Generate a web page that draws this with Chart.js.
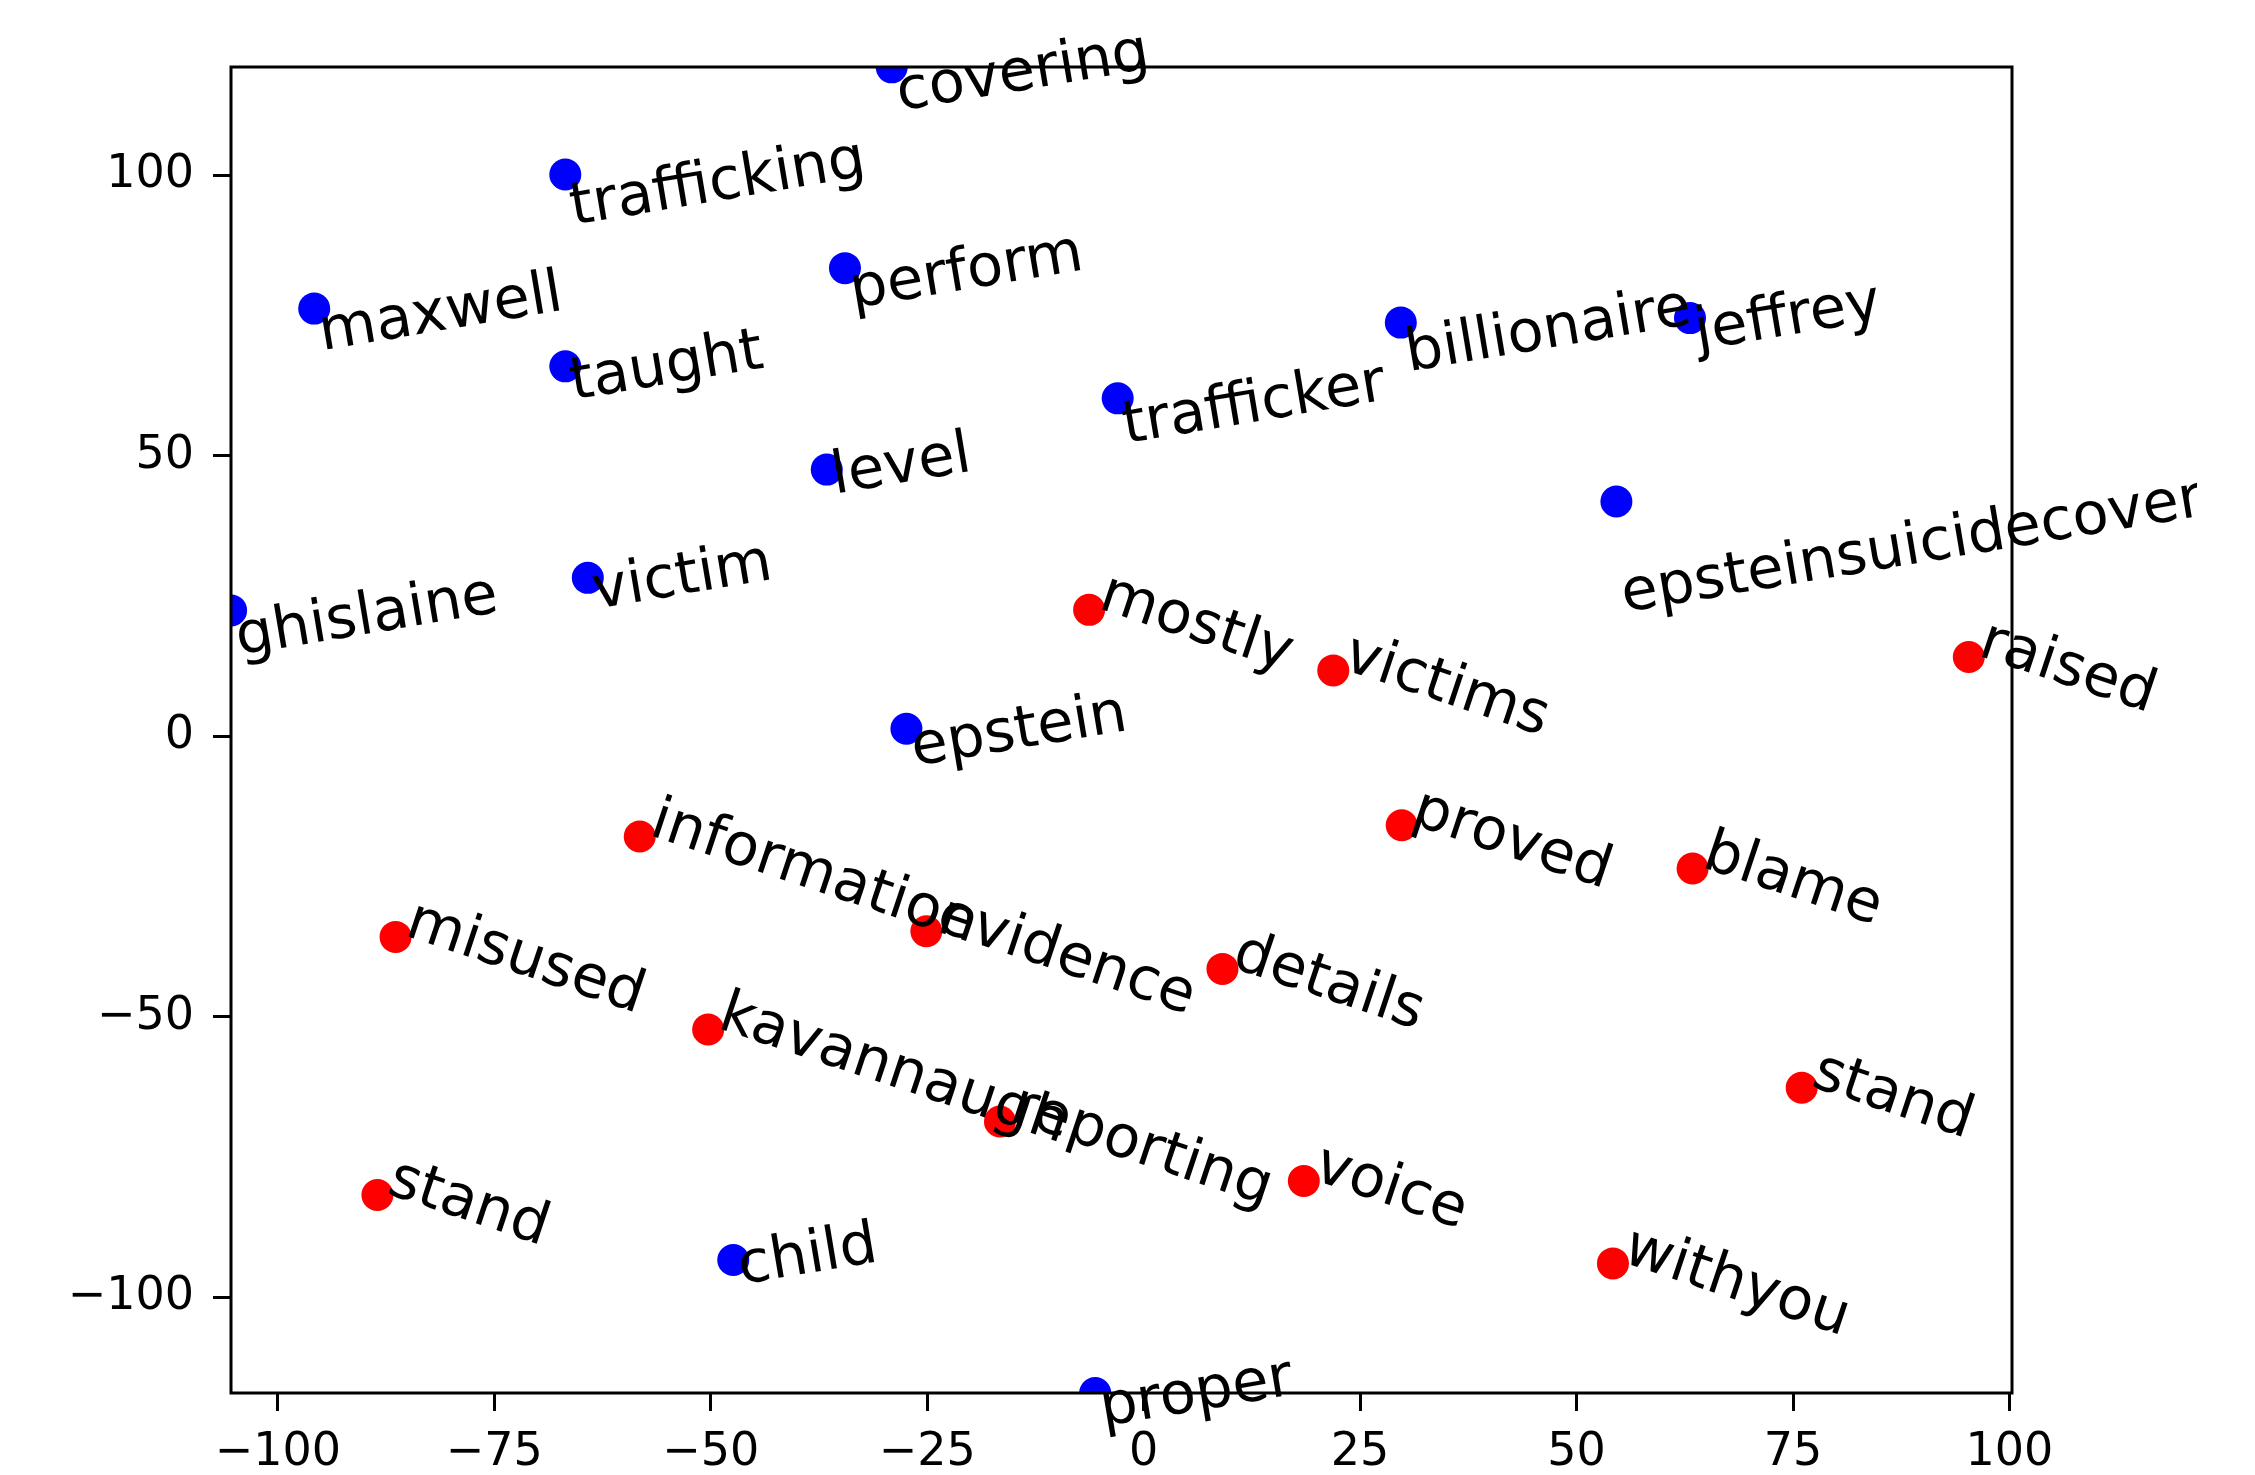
<!DOCTYPE html>
<html>
<head>
<meta charset="utf-8">
<title>word scatter</title>
<script src="https://cdn.jsdelivr.net/npm/chart.js@4.4.0/dist/chart.umd.min.js"></script>
<style>
  html, body { margin: 0; padding: 0; background: #fff; }
  #wrap { width: 2255px; height: 1475px; position: relative; }
</style>
</head>
<body>
<div id="wrap"><canvas id="plot"></canvas></div>
<script>
// blue words
const blueWords = ['covering', 'trafficking', 'perform', 'maxwell', 'taught', 'level', 'trafficker',
  'billionaire', 'jeffrey', 'epsteinsuicidecoverup', 'ghislaine', 'victim', 'epstein', 'child', 'proper'];
const blueX = [-29.1, -66.8, -34.5, -95.8, -66.8, -36.6, -3.0, 29.7, 63.1, 54.6, -105.4, -64.2, -27.4, -47.4, -5.6];
const blueY = [119.2, 100.1, 83.4, 76.2, 65.9, 47.5, 60.2, 73.7, 74.5, 41.8, 22.4, 28.2, 1.3, -93.4, -117.1];

// red words
const redWords = ['mostly', 'victims', 'raised', 'information', 'proved', 'blame', 'evidence', 'misused',
  'details', 'kavannaugh', 'reporting', 'stand', 'stand', 'voice', 'withyou'];
const redX = [-6.3, 21.9, 95.3, -58.2, 29.8, 63.4, -25.1, -86.4, 9.1, -50.3, -16.6, 76.0, -88.5, 18.5, 54.2];
const redY = [22.5, 11.7, 14.1, -17.9, -15.9, -23.6, -34.8, -35.8, -41.5, -52.3, -68.7, -62.7, -81.8, -79.3, -94.0];

const xTicks = [-100, -75, -50, -25, 0, 25, 50, 75, 100];
const yTicks = [-100, -50, 0, 50, 100];
const xRange = [-105.41, 100.29];
const yRange = [-117.1, 119.26];

const BLUE_ANGLE = 9.5;   // text rises to the right
const RED_ANGLE = -18.5;  // text falls to the right
const LABEL_FONT = '59px "DejaVu Sans"';
const FIGURE_RIGHT = 2197; // the original figure ends here, long labels get cut

const fmt = v => (v < 0 ? '\u2212' + Math.abs(v) : String(v));
const toPoints = (xs, ys) => xs.map((x, i) => ({ x: x, y: ys[i] }));

// frame + rotated word labels, drawn over the dots
const wordLabels = {
  id: 'wordLabels',
  afterDatasetsDraw(chart) {
    const ctx = chart.ctx;
    const a = chart.chartArea;
    ctx.save();
    ctx.strokeStyle = '#000';
    ctx.lineWidth = 3;
    ctx.strokeRect(a.left, a.top, a.right - a.left, a.bottom - a.top);
    ctx.restore();

    ctx.save();
    ctx.beginPath();
    ctx.rect(0, 0, FIGURE_RIGHT, chart.height);
    ctx.clip();
    ctx.font = LABEL_FONT;
    ctx.fillStyle = '#000';
    ctx.textBaseline = 'alphabetic';
    chart.data.datasets.forEach((ds, di) => {
      const meta = chart.getDatasetMeta(di);
      const ang = ds.labelAngle * Math.PI / 180;
      meta.data.forEach((pt, i) => {
        const word = ds.words[i];
        const w = ctx.measureText(word).width;
        const ox = pt.x + 8;
        const oy = ang > 0 ? pt.y + w * Math.sin(ang) + 1 : pt.y - 2;
        ctx.save();
        ctx.translate(ox, oy);
        ctx.rotate(-ang);
        ctx.fillText(word, 0, 0);
        ctx.restore();
      });
    });
    ctx.restore();
  }
};

const tickFont = { family: 'DejaVu Sans', size: 46 };

new Chart(document.getElementById('plot'), {
  type: 'scatter',
  data: {
    datasets: [
      {
        data: toPoints(blueX, blueY),
        words: blueWords,
        labelAngle: BLUE_ANGLE,
        backgroundColor: '#0000ff',
        borderWidth: 0,
        pointRadius: 16,
        pointHoverRadius: 16,
        clip: 0
      },
      {
        data: toPoints(redX, redY),
        words: redWords,
        labelAngle: RED_ANGLE,
        backgroundColor: '#ff0000',
        borderWidth: 0,
        pointRadius: 16,
        pointHoverRadius: 16,
        clip: 0
      }
    ]
  },
  options: {
    responsive: true,
    maintainAspectRatio: false,
    devicePixelRatio: 1,
    animation: false,
    events: [],
    layout: { padding: { left: 0, top: 67, right: 243, bottom: 0 } },
    plugins: {
      legend: { display: false },
      tooltip: { enabled: false }
    },
    scales: {
      x: {
        type: 'linear',
        min: xRange[0],
        max: xRange[1],
        afterBuildTicks: s => { s.ticks = xTicks.map(v => ({ value: v })); },
        afterFit: s => { s.height = 82; },
        grid: { drawOnChartArea: false, drawTicks: true, tickLength: 18, tickWidth: 3, tickColor: '#000' },
        border: { display: false },
        ticks: { color: '#000', font: tickFont, padding: 14, maxRotation: 0, autoSkip: false, callback: v => fmt(v) }
      },
      y: {
        type: 'linear',
        min: yRange[0],
        max: yRange[1],
        afterBuildTicks: s => { s.ticks = yTicks.map(v => ({ value: v })); },
        afterFit: s => { s.width = 231; },
        grid: { drawOnChartArea: false, drawTicks: true, tickLength: 18, tickWidth: 3, tickColor: '#000' },
        border: { display: false },
        ticks: { color: '#000', font: tickFont, padding: 19, autoSkip: false, callback: v => fmt(v) }
      }
    }
  },
  plugins: [wordLabels]
});
</script>
</body>
</html>
